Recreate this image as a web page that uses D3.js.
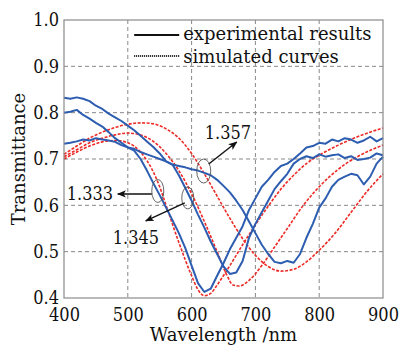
<!DOCTYPE html>
<html>
<head>
<meta charset="utf-8">
<script src="https://cdn.jsdelivr.net/npm/d3@7"></script>
<style>
  body { margin: 0; background: #fff; }
  svg text { font-family: "DejaVu Serif", serif; fill: #111; }
  svg text.num { font-family: "DejaVu Serif Condensed", "DejaVu Serif", serif; }
</style>
</head>
<body>
<div id="chart"></div>
<script>
// wavelength grid for the measured curves (nm)
var wlExp = [400,410,420,430,440,450,460,470,480,490,500,510,520,530,540,550,560,570,580,590,
             600,610,620,630,640,650,660,670,680,690,700,710,720,730,740,750,760,770,780,790,
             800,810,820,830,840,850,860,870,880,890,900];

// experimental results (blue)
var exp1333 = [.800,.802,.806,.795,.787,.778,.770,.758,.745,.735,.725,.718,.700,.675,.648,.622,.595,.568,.540,.508,
               .470,.432,.413,.420,.448,.475,.505,.530,.555,.590,.615,.640,.655,.672,.685,.690,.700,.712,.725,.728,
               .735,.733,.742,.738,.745,.742,.735,.740,.748,.738,.745];
var exp1345 = [.733,.735,.738,.742,.740,.745,.742,.740,.737,.730,.725,.722,.715,.710,.705,.700,.695,.688,.665,.638,
               .610,.580,.552,.522,.495,.468,.452,.455,.480,.530,.560,.585,.610,.635,.652,.668,.690,.700,.706,.702,
               .710,.705,.708,.710,.702,.706,.698,.700,.703,.712,.708];
var exp1357 = [.832,.830,.833,.830,.825,.815,.808,.798,.790,.782,.772,.762,.750,.738,.726,.712,.695,.688,.685,.682,
               .678,.675,.670,.665,.655,.642,.628,.610,.590,.565,.540,.515,.495,.478,.475,.480,.476,.495,.530,.560,
               .595,.615,.640,.655,.662,.668,.665,.645,.662,.690,.705];

// simulated curves (red)
var wlSim1333 = [400,420,440,460,480,500,520,540,550,560,580,600,610,620,630,640,660,680,700,720,740,760,780,800,830,860,900];
var sim1333   = [.700,.715,.728,.737,.740,.735,.715,.672,.640,.600,.520,.448,.418,.405,.410,.428,.470,.515,.558,.598,.635,.665,.690,.708,.730,.748,.767];
var wlSim1345 = [400,420,440,460,480,500,520,540,560,580,600,620,640,655,665,675,690,710,730,750,775,800,830,860,900];
var sim1345   = [.705,.720,.735,.745,.752,.756,.752,.738,.712,.675,.625,.565,.500,.450,.428,.426,.438,.470,.510,.550,.600,.640,.678,.705,.730];
var wlSim1357 = [400,420,440,460,480,500,520,540,560,580,600,620,640,660,680,700,720,740,760,780,800,825,850,875,900];
var sim1357   = [.710,.728,.745,.758,.768,.775,.778,.776,.765,.745,.712,.668,.620,.572,.528,.492,.468,.458,.462,.478,.503,.540,.585,.630,.668];

var xTicks = [400,500,600,700,800,900];
var yTicks = [0.4,0.5,0.6,0.7,0.8,0.9,1.0];

// annotations: label, marked point [nm, T]
var marks = [
  {label: "1.333", at: [547, 0.631]},
  {label: "1.345", at: [594, 0.616]},
  {label: "1.357", at: [619, 0.674]}
];

var W = 401, H = 348;
var margin = {top: 20, right: 18, bottom: 50, left: 64},
    width = W - margin.left - margin.right,
    height = H - margin.top - margin.bottom;

var svg = d3.select("#chart").append("svg")
    .attr("width", W).attr("height", H);

var defs = svg.append("defs");
defs.append("marker")
    .attr("id", "arr")
    .attr("viewBox", "0 0 10 10")
    .attr("refX", 9).attr("refY", 5)
    .attr("markerWidth", 9).attr("markerHeight", 9)
    .attr("markerUnits", "userSpaceOnUse")
    .attr("orient", "auto")
  .append("path")
    .attr("d", "M0,1 L10,5 L0,9 L2.5,5 Z")
    .attr("fill", "#111");

var g = svg.append("g")
    .attr("transform", "translate(" + margin.left + "," + margin.top + ")");

var x = d3.scaleLinear().domain([400, 900]).range([0, width]);
var y = d3.scaleLinear().domain([0.4, 1.0]).range([height, 0]);

// grid
g.append("g").selectAll("line")
    .data(xTicks.slice(1, -1))
  .enter().append("line")
    .attr("x1", function(d) { return x(d); }).attr("x2", function(d) { return x(d); })
    .attr("y1", 0).attr("y2", height)
    .attr("stroke", "#888").attr("stroke-width", 1).attr("stroke-dasharray", "4,3");
g.append("g").selectAll("line")
    .data(yTicks.slice(1, -1))
  .enter().append("line")
    .attr("y1", function(d) { return y(d); }).attr("y2", function(d) { return y(d); })
    .attr("x1", 0).attr("x2", width)
    .attr("stroke", "#888").attr("stroke-width", 1).attr("stroke-dasharray", "4,3");

// axes (labels only, frame drawn separately)
var xAxis = g.append("g")
    .attr("transform", "translate(0," + height + ")")
    .call(d3.axisBottom(x).tickValues(xTicks).tickSize(0).tickPadding(10).tickFormat(d3.format("d")));
var yAxis = g.append("g")
    .call(d3.axisLeft(y).tickValues(yTicks).tickSize(0).tickPadding(5).tickFormat(d3.format(".1f")));
[xAxis, yAxis].forEach(function(a) {
  a.select(".domain").remove();
  a.selectAll("text").attr("class", "num").style("font-size", "18px")
    .style("font-family", null).attr("fill", "#111");
});

// curves
var lineExp = d3.line()
    .x(function(d) { return x(d[0]); })
    .y(function(d) { return y(d[1]); });
var lineSim = d3.line()
    .curve(d3.curveMonotoneX)
    .x(function(d) { return x(d[0]); })
    .y(function(d) { return y(d[1]); });

function pairs(xs, ys) { return xs.map(function(v, i) { return [v, ys[i]]; }); }

var simSeries = [pairs(wlSim1333, sim1333), pairs(wlSim1345, sim1345), pairs(wlSim1357, sim1357)];
var expSeries = [pairs(wlExp, exp1333), pairs(wlExp, exp1345), pairs(wlExp, exp1357)];

var plot = g.append("g");
plot.selectAll(".sim")
    .data(simSeries)
  .enter().append("path")
    .attr("class", "sim")
    .attr("d", lineSim)
    .attr("fill", "none")
    .attr("stroke", "#ec2a26")
    .attr("stroke-width", 1.6)
    .attr("stroke-dasharray", "3,1.5");
plot.selectAll(".exp")
    .data(expSeries)
  .enter().append("path")
    .attr("class", "exp")
    .attr("d", lineExp)
    .attr("fill", "none")
    .attr("stroke", "#2d5db0")
    .attr("stroke-width", 2)
    .attr("stroke-linejoin", "round");

// frame
g.append("rect")
    .attr("width", width).attr("height", height)
    .attr("fill", "none").attr("stroke", "#8a8a8a").attr("stroke-width", 1.2);

// legend
var leg = g.append("g").attr("transform", "translate(" + (x(510) ) + ",0)");
leg.append("line").attr("x1", 0).attr("x2", 45).attr("y1", 15).attr("y2", 15)
    .attr("stroke", "#111").attr("stroke-width", 2);
leg.append("line").attr("x1", 0).attr("x2", 45).attr("y1", 36).attr("y2", 36)
    .attr("stroke", "#111").attr("stroke-width", 2).attr("stroke-dasharray", "1,1");
leg.append("text").attr("x", 49).attr("y", 19.5).style("font-size", "18px").text("experimental results");
leg.append("text").attr("x", 49).attr("y", 42.5).style("font-size", "18px").text("simulated curves");

// annotation ellipses, arrows and labels
var ann = [
  {m: marks[0], rx: 6, ry: 11.5, from: [-6, 3],  to: [-40, 3],  tx: -91, ty: 9,  anchor: "start"},
  {m: marks[1], rx: 6, ry: 11,   from: [-3, 5],  to: [-42, 23], tx: -75, ty: 46, anchor: "start"},
  {m: marks[2], rx: 7, ry: 12,   from: [5, -7],  to: [33, -29], tx: 1,   ty: -32, anchor: "start"}
];
ann.forEach(function(a) {
  var cx = x(a.m.at[0]), cy = y(a.m.at[1]);
  g.append("ellipse").attr("cx", cx).attr("cy", cy).attr("rx", a.rx).attr("ry", a.ry)
    .attr("fill", "none").attr("stroke", "#555").attr("stroke-width", 0.9);
  g.append("line")
    .attr("x1", cx + a.from[0]).attr("y1", cy + a.from[1])
    .attr("x2", cx + a.to[0]).attr("y2", cy + a.to[1])
    .attr("stroke", "#111").attr("stroke-width", 1.4)
    .attr("marker-end", "url(#arr)");
  g.append("text").attr("class", "num").attr("x", cx + a.tx).attr("y", cy + a.ty)
    .attr("text-anchor", a.anchor).style("font-size", "18px").text(a.m.label);
});

// axis titles
svg.append("text")
    .attr("x", margin.left + width / 2).attr("y", 341)
    .attr("text-anchor", "middle").style("font-size", "18px")
    .text("Wavelength /nm");
svg.append("text")
    .attr("transform", "translate(25," + (margin.top + height / 2) + ") rotate(-90)")
    .attr("text-anchor", "middle").style("font-size", "18px")
    .text("Transmittance");
</script>
</body>
</html>
